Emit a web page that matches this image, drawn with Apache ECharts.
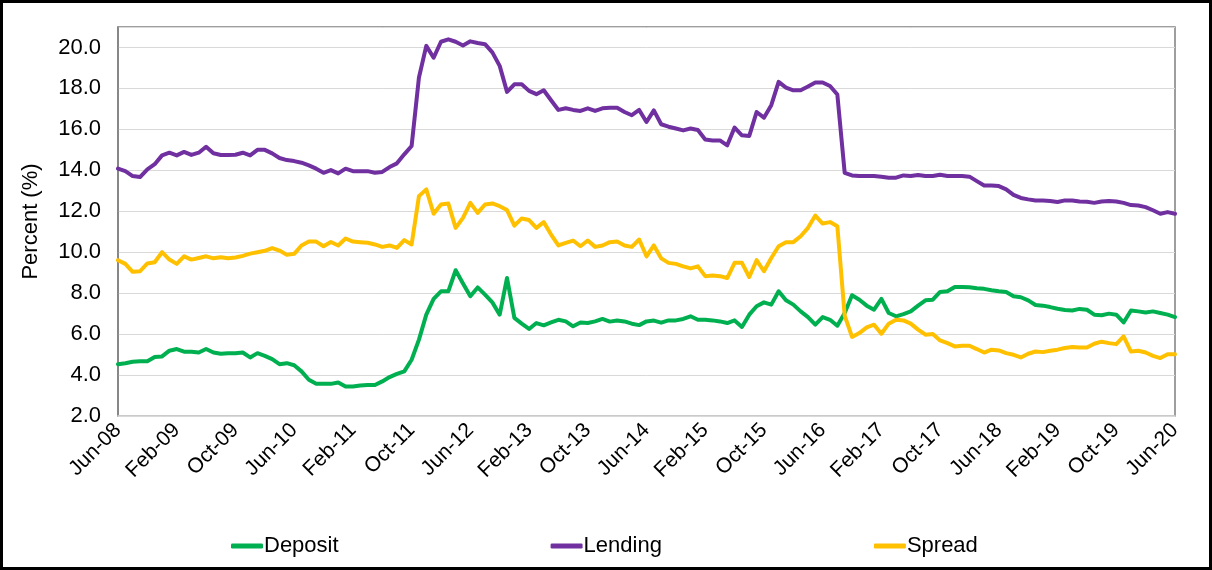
<!DOCTYPE html>
<html>
<head>
<meta charset="utf-8">
<script src="https://cdn.jsdelivr.net/npm/echarts@6/dist/echarts.min.js"></script>
<style>
html,body{margin:0;padding:0;background:#fff;}
#chart{width:1212px;height:570px;}
</style>
</head>
<body>
<div id="chart"></div>
<script>
// Monthly observations, Jun-08 .. Jun-20 (145 months)
const monthNames = ['Jan','Feb','Mar','Apr','May','Jun','Jul','Aug','Sep','Oct','Nov','Dec'];
const startMonthIndex = 5;   // June
const startYear = 8;         // 2008
const monthCount = 145;

const deposit = [
  4.53,4.58,4.65,4.67,4.67,4.88,4.91,5.19,5.27,5.14,5.14,5.10,5.27,5.10,5.04,5.07,5.07,5.10,4.86,5.07,4.94,4.78,4.53,4.58,4.48,
  4.18,3.77,3.57,3.57,3.57,3.64,3.44,3.44,3.49,3.51,3.51,3.69,3.90,4.06,4.18,4.75,5.73,6.95,7.72,8.09,8.09,9.12,8.47,7.85,8.28,
  7.93,7.55,6.95,8.74,6.79,6.51,6.25,6.54,6.43,6.57,6.70,6.62,6.38,6.57,6.54,6.62,6.74,6.61,6.66,6.62,6.51,6.44,6.62,6.66,6.56,
  6.67,6.67,6.74,6.87,6.70,6.70,6.67,6.62,6.54,6.67,6.35,6.95,7.36,7.55,7.44,8.09,7.65,7.44,7.11,6.83,6.46,6.83,6.70,6.41,7.03,
  7.90,7.68,7.39,7.19,7.72,7.03,6.87,6.98,7.11,7.39,7.65,7.68,8.06,8.09,8.30,8.30,8.29,8.24,8.21,8.14,8.09,8.06,7.85,7.80,
  7.65,7.42,7.39,7.32,7.24,7.18,7.15,7.23,7.19,6.95,6.92,7.00,6.95,6.57,7.15,7.11,7.06,7.11,7.03,6.95,6.83
];
const lending = [
  14.08,13.96,13.72,13.67,14.05,14.30,14.73,14.86,14.73,14.90,14.75,14.86,15.15,14.83,14.75,14.75,14.76,14.86,14.73,15.00,15.00,14.83,14.60,14.50,14.45,
  14.37,14.24,14.08,13.88,14.01,13.85,14.08,13.96,13.96,13.96,13.88,13.92,14.16,14.34,14.78,15.19,18.53,20.08,19.50,20.28,20.40,20.28,20.10,20.30,20.22,
  20.16,19.76,19.10,17.83,18.20,18.20,17.88,17.72,17.91,17.42,16.95,17.03,16.95,16.90,17.03,16.90,17.03,17.05,17.06,16.85,16.69,16.95,16.36,16.93,16.25,
  16.13,16.04,15.95,16.04,15.97,15.51,15.46,15.46,15.22,16.09,15.71,15.68,16.85,16.57,17.18,18.32,18.04,17.91,17.91,18.09,18.29,18.29,18.12,17.70,13.88,
  13.75,13.72,13.72,13.72,13.69,13.64,13.64,13.75,13.72,13.77,13.72,13.72,13.78,13.72,13.72,13.72,13.69,13.47,13.26,13.26,13.23,13.07,12.80,12.65,
  12.58,12.53,12.53,12.50,12.45,12.53,12.53,12.48,12.46,12.41,12.48,12.50,12.48,12.41,12.30,12.28,12.20,12.05,11.88,11.96,11.88
];
const spread = [
  9.61,9.43,9.04,9.07,9.45,9.51,10.00,9.64,9.43,9.80,9.64,9.72,9.80,9.70,9.75,9.70,9.74,9.82,9.93,10.00,10.07,10.20,10.08,9.87,9.92,
  10.33,10.52,10.52,10.29,10.50,10.33,10.67,10.52,10.49,10.46,10.38,10.26,10.33,10.21,10.59,10.38,12.74,13.07,11.88,12.33,12.38,11.19,11.68,12.41,11.92,
  12.33,12.38,12.25,12.06,11.30,11.65,11.57,11.19,11.47,10.86,10.33,10.46,10.57,10.29,10.57,10.26,10.33,10.49,10.52,10.33,10.26,10.62,9.80,10.33,9.70,
  9.48,9.43,9.31,9.21,9.31,8.83,8.86,8.83,8.74,9.48,9.48,8.79,9.61,9.07,9.72,10.29,10.49,10.49,10.78,11.19,11.79,11.40,11.47,11.27,6.90,
  5.86,6.05,6.33,6.46,6.02,6.51,6.70,6.67,6.51,6.22,5.97,6.00,5.69,5.56,5.40,5.43,5.43,5.27,5.10,5.24,5.20,5.07,4.99,4.86,
  5.04,5.15,5.12,5.19,5.24,5.32,5.37,5.35,5.35,5.53,5.63,5.56,5.51,5.89,5.15,5.19,5.10,4.94,4.83,5.02,5.02
];

const seriesNames = ['Deposit','Lending','Spread'];
const seriesColors = ['#00b050','#7030a0','#ffc000'];

const categories = [];
for (let i = 0; i < monthCount; i++) {
  const m = startMonthIndex + i;
  const yy = startYear + Math.floor(m / 12);
  categories.push(monthNames[m % 12] + '-' + String(yy).padStart(2, '0'));
}

const FONT = "'Liberation Sans', Arial, sans-serif";
const chart = echarts.init(document.getElementById('chart'), null, {renderer: 'canvas'});
const dataSets = [deposit, lending, spread];

chart.setOption({
  animation: false,
  backgroundColor: '#ffffff',
  textStyle: {fontFamily: FONT},
  graphic: [{
    type: 'rect', silent: true, z: 100,
    shape: {x: 1.5, y: 1.5, width: 1209, height: 567},
    style: {fill: null, stroke: '#000', lineWidth: 3}
  }],
  grid: {
    left: 118, right: 37, top: 27, bottom: 154,
    show: true, borderColor: '#7f7f7f', borderWidth: 1.5, backgroundColor: 'transparent'
  },
  legend: {
    data: seriesNames,
    left: 226, top: 530,
    icon: 'roundRect', itemWidth: 32, itemHeight: 5, itemGap: 212,
    textStyle: {fontFamily: FONT, fontSize: 22, color: '#000', padding: [0,0,0,-4]}
  },
  xAxis: {
    type: 'category',
    data: categories,
    boundaryGap: false,
    axisLine: {show: true, lineStyle: {color: '#d9d9d9', width: 1.5}},
    axisTick: {show: false},
    axisLabel: {
      interval: 7, rotate: 45, margin: 11,
      fontFamily: FONT, fontSize: 21, color: '#000'
    },
    splitLine: {show: false}
  },
  yAxis: {
    type: 'value',
    min: 2, max: 21, interval: 2,
    name: 'Percent (%)',
    nameLocation: 'middle', nameGap: 76,
    nameTextStyle: {fontFamily: FONT, fontSize: 22, color: '#000'},
    axisLine: {show: true, lineStyle: {color: '#7f7f7f', width: 1.5}},
    axisTick: {show: false},
    axisLabel: {
      showMaxLabel: false, margin: 17,
      fontFamily: FONT, fontSize: 22, color: '#000',
      formatter: v => v.toFixed(1)
    },
    splitLine: {show: true, lineStyle: {color: '#d9d9d9', width: 1}}
  },
  series: seriesNames.map((n, k) => ({
    name: n,
    type: 'line',
    data: dataSets[k],
    symbol: 'none',
    color: seriesColors[k],
    lineStyle: {color: seriesColors[k], width: 4, cap: 'round', join: 'round'}
  }))
});
</script>
</body>
</html>
